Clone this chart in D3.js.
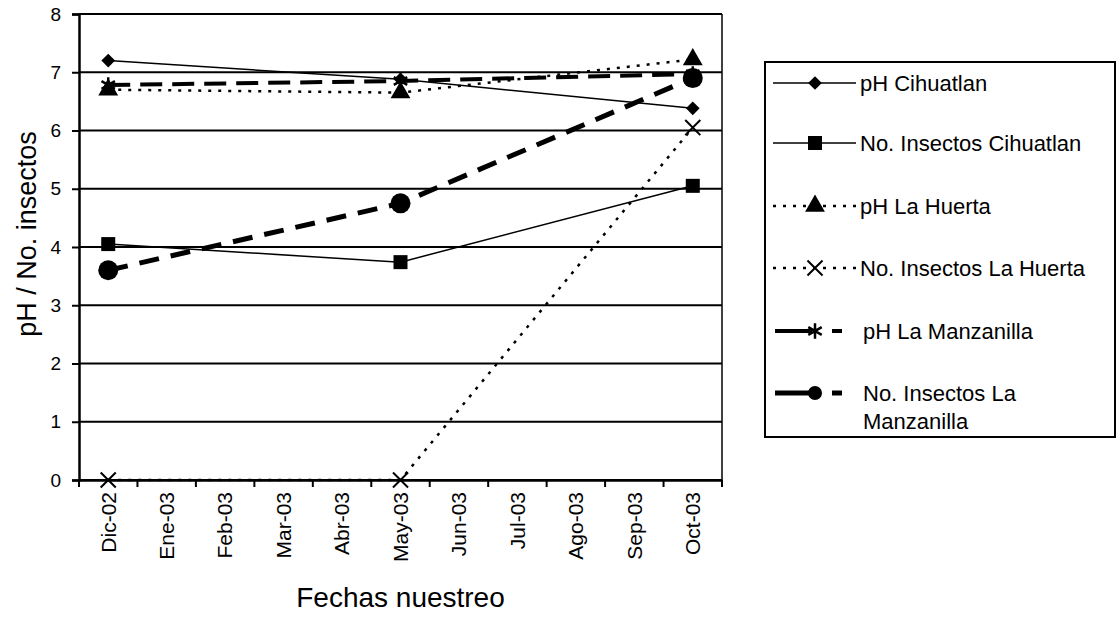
<!DOCTYPE html>
<html>
<head>
<meta charset="utf-8">
<script src="https://cdn.jsdelivr.net/npm/d3@7"></script>
<style>
body { margin: 0; background: #fff; }
svg { font-family: "Liberation Sans", Arial, sans-serif; }
</style>
</head>
<body>
<div id="chart"></div>
<script>
// datos
var months = ["Dic-02", "Ene-03", "Feb-03", "Mar-03", "Abr-03", "May-03", "Jun-03", "Jul-03", "Ago-03", "Sep-03", "Oct-03"];
var sampleMonths = ["Dic-02", "May-03", "Oct-03"];
var yTicks = [0, 1, 2, 3, 4, 5, 6, 7, 8];

var phCihuatlan = [7.2, 6.88, 6.38];
var insCihuatlan = [4.05, 3.74, 5.05];
var phHuerta = [6.7, 6.65, 7.22];
var insHuerta = [0, 0, 6.05];
var phManzanilla = [6.78, 6.85, 6.97];
var insManzanilla = [3.6, 4.75, 6.9];

var seriesNames = ["pH Cihuatlan", "No. Insectos Cihuatlan", "pH La Huerta", "No. Insectos La Huerta", "pH La Manzanilla", "No. Insectos La Manzanilla"];
var seriesValues = [phCihuatlan, insCihuatlan, phHuerta, insHuerta, phManzanilla, insManzanilla];

// estilos de cada serie
var styles = [
  { width: 1.5, dash: null, marker: "diamond" },
  { width: 1.5, dash: null, marker: "square" },
  { width: 2.5, dash: "3,7", marker: "triangle" },
  { width: 2.5, dash: "3,7", marker: "x" },
  { width: 4, dash: "22,10", marker: "asterisk" },
  { width: 5, dash: "20,12", marker: "circle" }
];

var svg_width = 1117, svg_height = 623;
var pLeft = 79, pRight = 722, pTop = 14, pBottom = 480;

var svg = d3.select("#chart").append("svg")
  .attr("width", svg_width)
  .attr("height", svg_height);

var x = d3.scaleBand().domain(months).range([pLeft, pRight]);
var y = d3.scaleLinear().domain([0, 8]).range([pBottom, pTop]);

// lineas de la cuadricula
svg.selectAll("line.grid")
  .data(yTicks)
  .enter().append("line")
  .attr("class", "grid")
  .attr("x1", pLeft).attr("x2", pRight)
  .attr("y1", function (d) { return y(d); })
  .attr("y2", function (d) { return y(d); })
  .attr("stroke", "#000")
  .attr("stroke-width", 2);

// borde derecho
svg.append("line")
  .attr("x1", pRight).attr("x2", pRight)
  .attr("y1", pTop).attr("y2", pBottom)
  .attr("stroke", "#000").attr("stroke-width", 1.5);

// eje y
var yAxis = d3.axisLeft(y).tickValues(yTicks).tickSize(7).tickPadding(11);
var gy = svg.append("g").attr("transform", "translate(" + pLeft + ",0)").call(yAxis);
gy.select(".domain").attr("stroke-width", 2.5);
gy.selectAll(".tick line").attr("stroke-width", 2);
gy.selectAll("text").attr("font-size", "19px").attr("fill", "#000");

// eje x: marcas entre categorias
var xAxis = d3.axisBottom(x).tickSize(0).tickPadding(12);
var gx = svg.append("g").attr("transform", "translate(0," + pBottom + ")").call(xAxis);
gx.select(".domain").attr("stroke-width", 2.5);
gx.selectAll("text")
  .attr("font-size", "21px").attr("fill", "#000")
  .attr("transform", "rotate(-90)")
  .attr("text-anchor", "end")
  .attr("x", -12).attr("y", 0)
  .attr("dy", "0.35em");

var boundaries = months.map(function (m) { return x(m); }).concat([pRight]);
svg.selectAll("line.xtick")
  .data(boundaries)
  .enter().append("line")
  .attr("class", "xtick")
  .attr("x1", function (d) { return d; })
  .attr("x2", function (d) { return d; })
  .attr("y1", pBottom).attr("y2", pBottom + 7)
  .attr("stroke", "#000").attr("stroke-width", 2);

// titulos
svg.append("text")
  .attr("x", (pLeft + pRight) / 2).attr("y", 607)
  .attr("text-anchor", "middle")
  .attr("font-size", "28px")
  .text("Fechas nuestreo");

svg.append("text")
  .attr("transform", "translate(36," + 234 + ") rotate(-90)")
  .attr("text-anchor", "middle")
  .attr("font-size", "27px")
  .text("pH / No. insectos");

function drawMarker(g, type, cx, cy) {
  if (type === "diamond") {
    g.append("path").attr("d", d3.symbol().type(d3.symbolDiamond2).size(120)())
      .attr("transform", "translate(" + cx + "," + cy + ")").attr("fill", "#000");
  } else if (type === "square") {
    g.append("rect").attr("x", cx - 7).attr("y", cy - 7).attr("width", 14).attr("height", 14).attr("fill", "#000");
  } else if (type === "triangle") {
    g.append("path").attr("d", d3.symbol().type(d3.symbolTriangle).size(170)())
      .attr("transform", "translate(" + cx + "," + cy + ")").attr("fill", "#000");
  } else if (type === "x") {
    g.append("path").attr("d", d3.symbol().type(d3.symbolX).size(150)())
      .attr("transform", "translate(" + cx + "," + cy + ")").attr("fill", "none")
      .attr("stroke", "#000").attr("stroke-width", 2);
  } else if (type === "asterisk") {
    g.append("path").attr("d", d3.symbol().type(d3.symbolAsterisk).size(170)())
      .attr("transform", "translate(" + cx + "," + cy + ")").attr("fill", "none")
      .attr("stroke", "#000").attr("stroke-width", 2.5);
  } else if (type === "circle") {
    g.append("circle").attr("cx", cx).attr("cy", cy).attr("r", 10).attr("fill", "#000");
  }
}

// series
var line = d3.line()
  .x(function (d, i) { return x(sampleMonths[i]) + x.bandwidth() / 2; })
  .y(function (d) { return y(d); });

seriesValues.forEach(function (vals, s) {
  var st = styles[s];
  var g = svg.append("g");
  g.append("path")
    .attr("d", line(vals))
    .attr("fill", "none")
    .attr("stroke", "#000")
    .attr("stroke-width", st.width)
    .attr("stroke-dasharray", st.dash);
  vals.forEach(function (v, i) {
    drawMarker(g, st.marker, x(sampleMonths[i]) + x.bandwidth() / 2, y(v));
  });
});

// leyenda
var lg = svg.append("g");
lg.append("rect")
  .attr("x", 765).attr("y", 62).attr("width", 350).attr("height", 375)
  .attr("fill", "#fff").attr("stroke", "#000").attr("stroke-width", 2);

var legendY = [83, 143, 206, 268, 331, 393];
seriesNames.forEach(function (name, s) {
  var st = styles[s];
  var ly = legendY[s];
  if (s < 4) {
    lg.append("line")
      .attr("x1", 773).attr("x2", 856).attr("y1", ly).attr("y2", ly)
      .attr("stroke", "#000").attr("stroke-width", st.width)
      .attr("stroke-dasharray", st.dash);
  } else {
    lg.append("line")
      .attr("x1", 775).attr("x2", 812).attr("y1", ly).attr("y2", ly)
      .attr("stroke", "#000").attr("stroke-width", st.width);
    lg.append("line")
      .attr("x1", 832).attr("x2", 842).attr("y1", ly).attr("y2", ly)
      .attr("stroke", "#000").attr("stroke-width", st.width);
  }
  var mg = lg.append("g");
  drawMarker(mg, st.marker, 815, ly);
  if (st.marker === "circle") mg.select("circle").attr("r", 7);
  var t = lg.append("text")
    .attr("x", s >= 4 ? 863 : 860).attr("y", ly)
    .attr("dy", "0.35em")
    .attr("font-size", "22px");
  if (name === "No. Insectos La Manzanilla") {
    t.append("tspan").attr("x", 863).text("No. Insectos La");
    t.append("tspan").attr("x", 863).attr("dy", "1.3em").text("Manzanilla");
  } else {
    t.text(name);
  }
});
</script>
</body>
</html>
